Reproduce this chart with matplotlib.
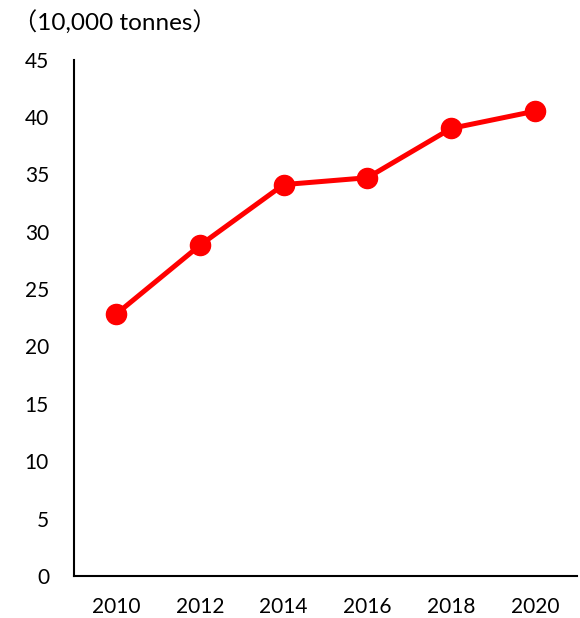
import matplotlib
matplotlib.use("Agg")
from matplotlib import pyplot as plt

years = ["2010", "2012", "2014", "2016", "2018", "2020"]
volume = [22.8, 28.8, 34.1, 34.7, 39.0, 40.5]
yticks = [0, 5, 10, 15, 20, 25, 30, 35, 40, 45]

plt.rcParams['font.family'] = ['Lato', 'Noto Sans CJK JP', 'DejaVu Sans']

fig = plt.figure(figsize=(5.8, 6.18), dpi=100)
ax = fig.add_axes([0.1276, 0.068, 0.8672, 0.8357])

x = range(len(years))
ax.plot(x, volume, color='#FF0000', linewidth=3.6, marker='o', markersize=14.5,
        solid_capstyle='round')

ax.set_xlim(-0.5, len(years) - 0.5)
ax.set_ylim(0, 45)
ax.set_xticks(list(x))
ax.set_xticklabels(years)
ax.set_yticks(yticks)

for side in ('top', 'right'):
    ax.spines[side].set_visible(False)
for side in ('left', 'bottom'):
    ax.spines[side].set_linewidth(1.5)
    ax.spines[side].set_color('black')

ax.tick_params(axis='y', length=0, pad=18, labelsize=15)
ax.tick_params(axis='x', length=0, pad=15, labelsize=15)

fig.text(0.022, 0.964, '（10,000 tonnes）', fontsize=17.5, va='center', ha='left')

fig.savefig('out.png', dpi=100)
